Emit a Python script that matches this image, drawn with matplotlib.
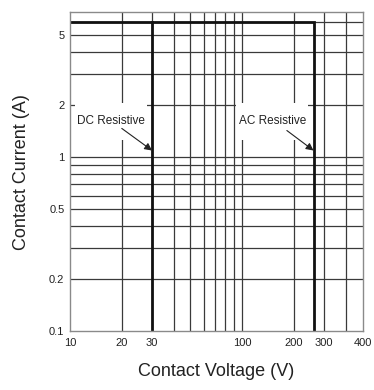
import matplotlib
matplotlib.use("Agg")
import matplotlib.pyplot as plt

plt.rcParams["font.family"] = ["Liberation Sans", "DejaVu Sans"]

# ── Data ────────────────────────────────────────────────────────────────────
volt_grid = [20, 30, 40, 50, 60, 70, 80, 90, 100, 200, 300, 400]
curr_grid = [0.2, 0.3, 0.4, 0.5, 0.6, 0.7, 0.8, 0.9, 1, 2, 3, 4, 5, 6]

# rating envelope: 6 A max current, AC limit at ~260 V, DC limit at 30 V
ac_volt = [10, 260, 260]
ac_curr = [6, 6, 0.1]
dc_volt = [30, 30]
dc_curr = [6, 0.1]

# labels: (text, label position, arrow tail, arrow head)
labels = [
    ("DC Resistive", (17.3, 1.6), (20, 1.46), (30, 1.09)),
    ("AC Resistive", (150, 1.6), (182, 1.42), (260, 1.09)),
]

x_ticks = [10, 20, 30, 100, 200, 300]
x_tick_labels = ["10", "20", "30", "100", "200", "300"]
y_ticks = [0.1, 0.2, 0.5, 1, 2, 5]
y_tick_labels = ["0.1", "0.2", "0.5", "1", "2", "5"]

X_MIN, X_MAX = 10, 505
Y_MIN, Y_MAX = 0.1, 6.8

# ── Plot ────────────────────────────────────────────────────────────────────
fig = plt.figure(figsize=(3.74, 3.90), dpi=100)
ax = fig.add_axes([0.187, 0.151, 0.784, 0.818])
ax.set_xscale("log")
ax.set_yscale("log")
ax.set_xlim(X_MIN, X_MAX)
ax.set_ylim(Y_MIN, Y_MAX)

for v in volt_grid:
    ax.axvline(v, color="#3a3a3a", linewidth=0.9, zorder=1)
for c in curr_grid:
    ax.axhline(c, color="#3a3a3a", linewidth=0.9, zorder=1)

ax.plot(ac_volt, ac_curr, color="#111111", linewidth=2.0, zorder=4,
        solid_joinstyle="miter")
ax.plot(dc_volt, dc_curr, color="#111111", linewidth=2.0, zorder=4)

for text, pos, tail, head in labels:
    # blank lines above/below make the white box tall but narrow
    ax.text(pos[0], pos[1], "\n" + text + "\n", fontsize=8.5, ha="center",
            va="center", linespacing=0.8, color="#222222", zorder=3,
            bbox=dict(boxstyle="square,pad=0.2", fc="white", ec="none"))
    ax.annotate("", xy=head, xytext=tail, zorder=4,
                arrowprops=dict(arrowstyle="-|>", color="#222222", lw=0.8,
                                mutation_scale=11, shrinkA=0, shrinkB=0))

# axis "400" label sits at the right edge in the original chart
ax.set_xticks(x_ticks + [X_MAX])
ax.set_xticklabels(x_tick_labels + ["400"])
ax.set_yticks(y_ticks)
ax.set_yticklabels(y_tick_labels)
ax.minorticks_off()
ax.tick_params(axis="both", length=0, labelsize=8, colors="#222222")
ax.tick_params(axis="x", pad=5)
ax.tick_params(axis="y", pad=4)

for sp in ax.spines.values():
    sp.set_color("#8a8a8a")
    sp.set_linewidth(1.0)
    sp.set_zorder(5)

fig.text(0.579, 0.025, "Contact Voltage (V)", ha="center", va="bottom",
         fontsize=13, color="#222222")
fig.text(0.058, 0.56, "Contact Current (A)", ha="center", va="center",
         rotation=90, fontsize=13, color="#222222")

fig.savefig("out.png", dpi=100)
plt.close(fig)
